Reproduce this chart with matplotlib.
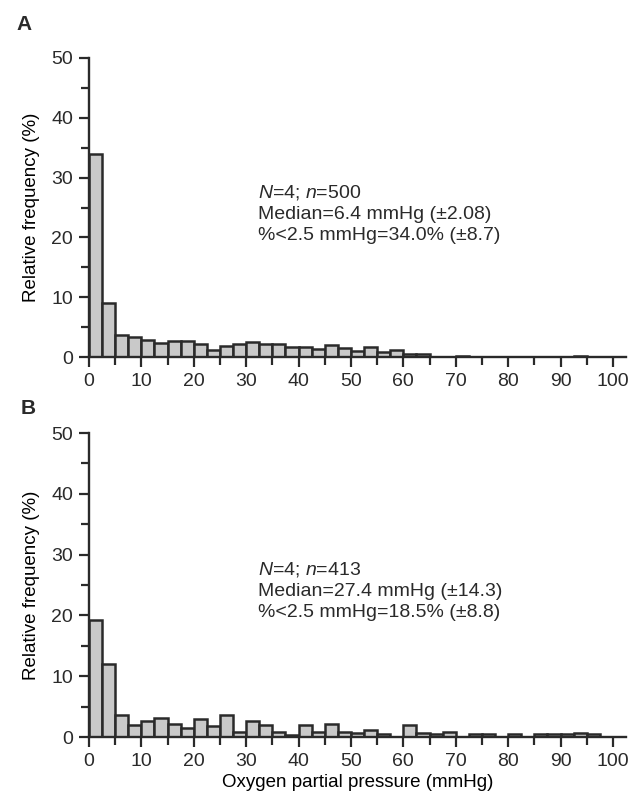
"""Relative frequency histograms of oxygen partial pressure (panels A and B)."""

import matplotlib

matplotlib.use("Agg")

import matplotlib.pyplot as plt
import numpy as np
from matplotlib.ticker import MultipleLocator

# bin edges: 0-100 mmHg in 2.5 mmHg steps
BIN_WIDTH = 2.5
bin_left = np.arange(0, 100, BIN_WIDTH)

freq_a = [34.0, 9.0, 3.7, 3.4, 2.8, 2.4, 2.7, 2.6, 2.2, 1.2,
          1.9, 2.1, 2.5, 2.1, 2.1, 1.7, 1.6, 1.4, 2.0, 1.5,
          1.0, 1.6, 0.8, 1.1, 0.5, 0.5, 0.0, 0.0, 0.2, 0.0,
          0.0, 0.0, 0.0, 0.0, 0.0, 0.0, 0.0, 0.2, 0.0, 0.0]

freq_b = [19.2, 12.0, 3.7, 2.0, 2.7, 3.2, 2.1, 1.5, 3.0, 1.8,
          3.6, 0.8, 2.6, 1.9, 0.8, 0.3, 2.0, 0.9, 2.2, 0.9,
          0.7, 1.1, 0.55, 0.0, 1.9, 0.7, 0.55, 0.8, 0.0, 0.45,
          0.55, 0.0, 0.55, 0.0, 0.45, 0.45, 0.45, 0.7, 0.55, 0.0]

panel_labels = ["A", "B"]
notes_a = ["$N$=4; $n$=500", "Median=6.4 mmHg (\u00b12.08)", "%<2.5 mmHg=34.0% (\u00b18.7)"]
notes_b = ["$N$=4; $n$=413", "Median=27.4 mmHg (\u00b114.3)", "%<2.5 mmHg=18.5% (\u00b18.8)"]

INK = "#2a2a2a"
plt.rcParams["font.family"] = ["Liberation Sans", "DejaVu Sans"]
plt.rcParams["mathtext.fontset"] = "custom"
plt.rcParams["mathtext.it"] = "Liberation Sans:italic"
plt.rcParams["mathtext.rm"] = "Liberation Sans"
plt.rcParams["text.color"] = INK


def _panel(fig, rect, freq, notes, label, label_xy, xlabel=None):
    ax = fig.add_axes(rect)
    ax.bar(bin_left, freq, width=BIN_WIDTH, align="edge", color="#c9c9c9",
           edgecolor=INK, linewidth=1.8, zorder=2)
    ax.set_xlim(0, 102.5)
    ax.set_ylim(0, 50)
    for side in ("top", "right"):
        ax.spines[side].set_visible(False)
    ax.spines["left"].set_bounds(0, 50)
    for side in ("left", "bottom"):
        ax.spines[side].set_linewidth(1.7)
        ax.spines[side].set_color(INK)
    ax.xaxis.set_major_locator(MultipleLocator(10))
    ax.xaxis.set_minor_locator(MultipleLocator(5))
    ax.yaxis.set_major_locator(MultipleLocator(10))
    ax.yaxis.set_minor_locator(MultipleLocator(5))
    ax.tick_params(which="major", direction="out", length=7.5, width=1.6,
                   color=INK, labelsize=14, labelcolor=INK, pad=4)
    ax.tick_params(which="minor", direction="out", length=5.5, width=1.6, color=INK)
    ax.set_ylabel("Relative frequency (%)", fontsize=13.5, labelpad=8)
    if xlabel:
        ax.set_xlabel(xlabel, fontsize=13.5, labelpad=3)
    h = rect[3] * 793
    for i, line in enumerate(notes):
        ax.text(0.315, 0.535 - i * 21.5 / h, line, transform=ax.transAxes,
                fontsize=14, va="baseline")
    fig.text(label_xy[0], label_xy[1], label, fontsize=15, fontweight="bold",
             va="center", ha="center")
    return ax


def main() -> None:
    fig = plt.figure(figsize=(6.31, 7.93), dpi=100)
    left, width = 89 / 631, 537 / 631
    _panel(fig, [left, 436 / 793, width, 299 / 793], freq_a, notes_a,
           panel_labels[0], (24 / 631, 1 - 24 / 793))
    _panel(fig, [left, 56 / 793, width, 304 / 793], freq_b, notes_b,
           panel_labels[1], (28 / 631, 1 - 408 / 793),
           xlabel="Oxygen partial pressure (mmHg)")
    fig.savefig("out.png", dpi=100, facecolor="white")
    plt.close(fig)


if __name__ == "__main__":
    main()
